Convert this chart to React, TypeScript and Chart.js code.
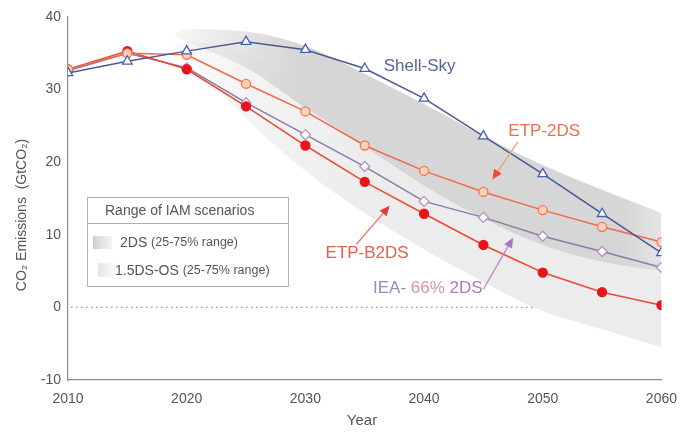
import React, { useEffect, useRef } from 'react';
import { Chart, registerables } from 'chart.js';

Chart.register(...registerables);

// ---- Data ----
const years = [2010, 2015, 2020, 2025, 2030, 2035, 2040, 2045, 2050, 2055, 2060];
const shellSky = [32.3, 33.9, 35.3, 36.6, 35.5, 32.9, 28.8, 23.6, 18.4, 12.9, 7.5];
const etp2ds = [32.8, 35.0, 34.8, 30.8, 27.0, 22.3, 18.8, 15.9, 13.4, 11.1, 9.0];
const etpB2ds = [32.8, 35.3, 32.8, 27.7, 22.3, 17.3, 12.9, 8.6, 4.8, 2.1, 0.3];
const iea66 = [32.6, 35.0, 33.0, 28.2, 23.8, 19.4, 14.6, 12.4, 9.8, 7.7, 5.5];

const bandYears = [2019, 2020, 2025, 2030, 2035, 2040, 2045, 2050, 2055, 2060];
const band2dsHigh = [37.8, 38.3, 38.0, 36.0, 32.2, 28.0, 23.6, 19.6, 16.2, 13.0];
const band2dsLow = [37.4, 36.6, 33.0, 27.5, 22.2, 16.8, 12.2, 8.6, 6.3, 5.0];
const band15High = [36.2, 36.6, 35.0, 30.0, 25.0, 20.0, 15.5, 11.5, 8.5, 6.0];
const band15Low = [35.6, 34.5, 26.0, 18.8, 13.0, 8.0, 3.5, -0.5, -3.0, -5.5];

const xTicks = [2010, 2020, 2030, 2040, 2050, 2060];
const yTicks = [-10, 0, 10, 20, 30, 40];
const zeroLine = 0;

const seriesLabels = ['Shell-Sky', 'ETP-2DS', 'ETP-B2DS', 'IEA- 66% 2DS'];

const FONT = "'Liberation Sans', Arial, Helvetica, sans-serif";

const pts = (xs: number[], ys: number[]) => xs.map((x, i) => ({ x, y: ys[i] }));

function drawArrow(ctx: CanvasRenderingContext2D, x1: number, y1: number, x2: number, y2: number, lineColor: string, headColor: string) {
  const ang = Math.atan2(y2 - y1, x2 - x1);
  const hl = 10, hw = 4.5;
  const bx = x2 - hl * Math.cos(ang), by = y2 - hl * Math.sin(ang);
  ctx.save();
  ctx.strokeStyle = lineColor;
  ctx.lineWidth = 1.3;
  ctx.beginPath();
  ctx.moveTo(x1, y1);
  ctx.lineTo(bx, by);
  ctx.stroke();
  ctx.fillStyle = headColor;
  ctx.beginPath();
  ctx.moveTo(x2, y2);
  ctx.lineTo(bx + hw * Math.sin(ang), by - hw * Math.cos(ang));
  ctx.lineTo(bx - hw * Math.sin(ang), by + hw * Math.cos(ang));
  ctx.closePath();
  ctx.fill();
  ctx.restore();
}

const annotPlugin = {
  id: 'annot',
  beforeDraw(chart: any) {
    const { ctx, scales } = chart;
    const xs = scales.x, ys = scales.y;
    ctx.save();
    ctx.strokeStyle = '#9a9a9a';
    ctx.lineWidth = 1.2;
    ctx.setLineDash([1.5, 3.5]);
    const y0 = ys.getPixelForValue(zeroLine);
    ctx.beginPath();
    ctx.moveTo(xs.getPixelForValue(2010) + 3, y0);
    ctx.lineTo(xs.getPixelForValue(2060), y0);
    ctx.stroke();
    ctx.restore();
  },
  afterDraw(chart: any) {
    const { ctx, scales } = chart;
    const xs = scales.x, ys = scales.y;
    const px = (v: number) => xs.getPixelForValue(v);
    const py = (v: number) => ys.getPixelForValue(v);
    ctx.save();
    ctx.textBaseline = 'middle';
    ctx.textAlign = 'left';
    ctx.font = `17px ${FONT}`;

    // Series labels
    ctx.fillStyle = '#5a6499';
    ctx.fillText(seriesLabels[0], px(2036.6), py(33.2));
    ctx.fillStyle = '#e8704e';
    ctx.fillText(seriesLabels[1], px(2047.1), py(24.3));
    ctx.fillStyle = '#e2604a';
    ctx.fillText(seriesLabels[2], px(2031.7), py(7.5));
    // IEA label in segments
    let lx = px(2035.7);
    const ly = py(2.6);
    const segs: [string, string][] = [['IEA- ', '#9c88b4'], ['66%', '#d892b8'], [' 2DS', '#a67ec0']];
    for (const [t, c] of segs) {
      ctx.fillStyle = c;
      ctx.fillText(t, lx, ly);
      lx += ctx.measureText(t).width;
    }

    // Arrows
    drawArrow(ctx, px(2047.9), py(22.8), px(2045.75), py(17.6), '#f2a070', '#f04a30');
    drawArrow(ctx, px(2034.3), py(8.7), px(2037.1), py(14.0), '#e87868', '#e83838');
    drawArrow(ctx, px(2045.0), py(2.5), px(2047.5), py(9.6), '#b888c8', '#b070c0');

    // Legend box
    const L = 87.5, T = 197.5, W = 201, H = 89;
    ctx.fillStyle = '#ffffff';
    ctx.fillRect(L, T, W, H);
    ctx.strokeStyle = '#b0b0b0';
    ctx.lineWidth = 1;
    ctx.strokeRect(L, T, W, H);
    ctx.beginPath();
    ctx.moveTo(L, 223.5);
    ctx.lineTo(L + W, 223.5);
    ctx.stroke();
    ctx.fillStyle = '#555555';
    ctx.font = `14px ${FONT}`;
    ctx.fillText('Range of IAM scenarios', 105, 211);

    const g1 = ctx.createLinearGradient(93, 0, 113, 0);
    g1.addColorStop(0, 'rgba(200,200,200,0.9)');
    g1.addColorStop(1, 'rgba(220,220,220,0.3)');
    ctx.fillStyle = g1;
    ctx.fillRect(93, 236, 19, 13);
    const g2 = ctx.createLinearGradient(98, 0, 116, 0);
    g2.addColorStop(0, 'rgba(225,225,225,0.9)');
    g2.addColorStop(1, 'rgba(235,235,235,0.3)');
    ctx.fillStyle = g2;
    ctx.fillRect(98, 263, 17, 14);

    ctx.fillStyle = '#555555';
    ctx.font = `14px ${FONT}`;
    ctx.fillText('2DS', 120, 243);
    let w = ctx.measureText('2DS ').width;
    ctx.font = `12.5px ${FONT}`;
    ctx.fillText('(25-75% range)', 120 + w, 243);
    ctx.font = `14px ${FONT}`;
    ctx.fillText('1.5DS-OS', 115, 271);
    w = ctx.measureText('1.5DS-OS ').width;
    ctx.font = `12.5px ${FONT}`;
    ctx.fillText('(25-75% range)', 115 + w, 271);

    // Axis titles
    ctx.fillStyle = '#555555';
    ctx.font = `15px ${FONT}`;
    ctx.textAlign = 'center';
    ctx.fillText('Year', 362, 421);
    ctx.translate(22, 215);
    ctx.rotate(-Math.PI / 2);
    ctx.font = `14px ${FONT}`;
    ctx.fillText('CO\u2082 Emissions  (GtCO\u2082)', 0, 0);
    ctx.restore();
  },
};

export default function App() {
  const ref = useRef<HTMLCanvasElement>(null);
  useEffect(() => {
    document.body.style.margin = '0';
    const canvas = ref.current!;
    const darkFill = (c: any) => {
      const chart = c.chart;
      if (!chart.chartArea) return '#d6d6d6';
      const xs = chart.scales.x;
      const g = chart.ctx.createLinearGradient(xs.getPixelForValue(2019), 0, xs.getPixelForValue(2060), 0);
      g.addColorStop(0, 'rgba(214,214,214,0.2)');
      g.addColorStop(0.25, 'rgba(214,214,214,1)');
      g.addColorStop(0.92, 'rgba(214,214,214,1)');
      g.addColorStop(1, 'rgba(222,222,222,0.8)');
      return g;
    };
    const lightFill = (c: any) => {
      const chart = c.chart;
      if (!chart.chartArea) return '#ececec';
      const xs = chart.scales.x;
      const g = chart.ctx.createLinearGradient(xs.getPixelForValue(2019), 0, xs.getPixelForValue(2035), 0);
      g.addColorStop(0, 'rgba(236,236,236,0.3)');
      g.addColorStop(1, 'rgba(236,236,236,1)');
      return g;
    };
    const lineBase = { showLine: true, tension: 0, borderWidth: 1.5, pointBorderWidth: 1.3, pointRadius: 4.5 };
    const bandBase = { showLine: true, cubicInterpolationMode: 'monotone', borderWidth: 0, borderColor: 'transparent', pointRadius: 0, pointHoverRadius: 0 };
    const chart = new Chart(canvas, {
      type: 'scatter',
      data: {
        datasets: [
          { ...lineBase, label: seriesLabels[0], data: pts(years, shellSky), borderColor: '#4c5892', pointStyle: 'triangle', pointRadius: 5.5, pointBackgroundColor: '#ffffff', pointBorderColor: '#3f62b0', fill: false },
          { ...lineBase, label: seriesLabels[1], data: pts(years, etp2ds), borderColor: '#f06a48', pointStyle: 'circle', pointBackgroundColor: '#fbd3bd', pointBorderColor: '#f27a4e', fill: false },
          { ...lineBase, label: seriesLabels[2], data: pts(years, etpB2ds), borderColor: '#ec4a32', pointStyle: 'circle', pointBackgroundColor: '#e8141c', pointBorderColor: '#e8141c', fill: false },
          { ...lineBase, label: seriesLabels[3], data: pts(years, iea66), borderColor: '#8c7aa8', pointStyle: 'rectRot', pointRadius: 5, pointBackgroundColor: '#ffffff', pointBorderColor: '#b890c4', fill: false },
          { ...bandBase, label: '2DS high', data: pts(bandYears, band2dsHigh), fill: false },
          { ...bandBase, label: '2DS low', data: pts(bandYears, band2dsLow), fill: '-1', backgroundColor: darkFill },
          { ...bandBase, label: '1.5DS high', data: pts(bandYears, band15High), fill: false },
          { ...bandBase, label: '1.5DS low', data: pts(bandYears, band15Low), fill: '-1', backgroundColor: lightFill },
        ] as any,
      },
      options: {
        responsive: false,
        animation: false,
        events: [],
        layout: { padding: { top: 17, right: 24, left: 0, bottom: 0 } },
        plugins: {
          legend: { display: false },
          tooltip: { enabled: false },
          filler: { drawTime: 'beforeDatasetsDraw' },
        } as any,
        scales: {
          x: {
            type: 'linear',
            min: 2010,
            max: 2060,
            afterBuildTicks: (s: any) => { s.ticks = xTicks.map((v) => ({ value: v })); },
            afterFit: (s: any) => { s.height = 52; },
            grid: { display: false, drawTicks: false },
            border: { display: true, color: '#8a8a8a', width: 1.2 },
            ticks: { padding: 11, color: '#555555', font: { family: FONT, size: 14 }, callback: (v: any) => String(v), maxRotation: 0 },
          },
          y: {
            type: 'linear',
            min: -10,
            max: 40,
            afterBuildTicks: (s: any) => { s.ticks = yTicks.map((v) => ({ value: v })); },
            afterFit: (s: any) => { s.width = 68; },
            grid: { display: false, drawTicks: false },
            border: { display: true, color: '#8a8a8a', width: 1.2 },
            ticks: { padding: 7, color: '#555555', font: { family: FONT, size: 14 }, callback: (v: any) => String(v) },
          },
        },
      },
      plugins: [annotPlugin],
    });
    return () => chart.destroy();
  }, []);
  return (
    <div style={{ position: 'fixed', left: 0, top: 0, width: 688, height: 432, background: '#ffffff' }}>
      <canvas ref={ref} width={688} height={432} style={{ display: 'block' }} />
    </div>
  );
}
